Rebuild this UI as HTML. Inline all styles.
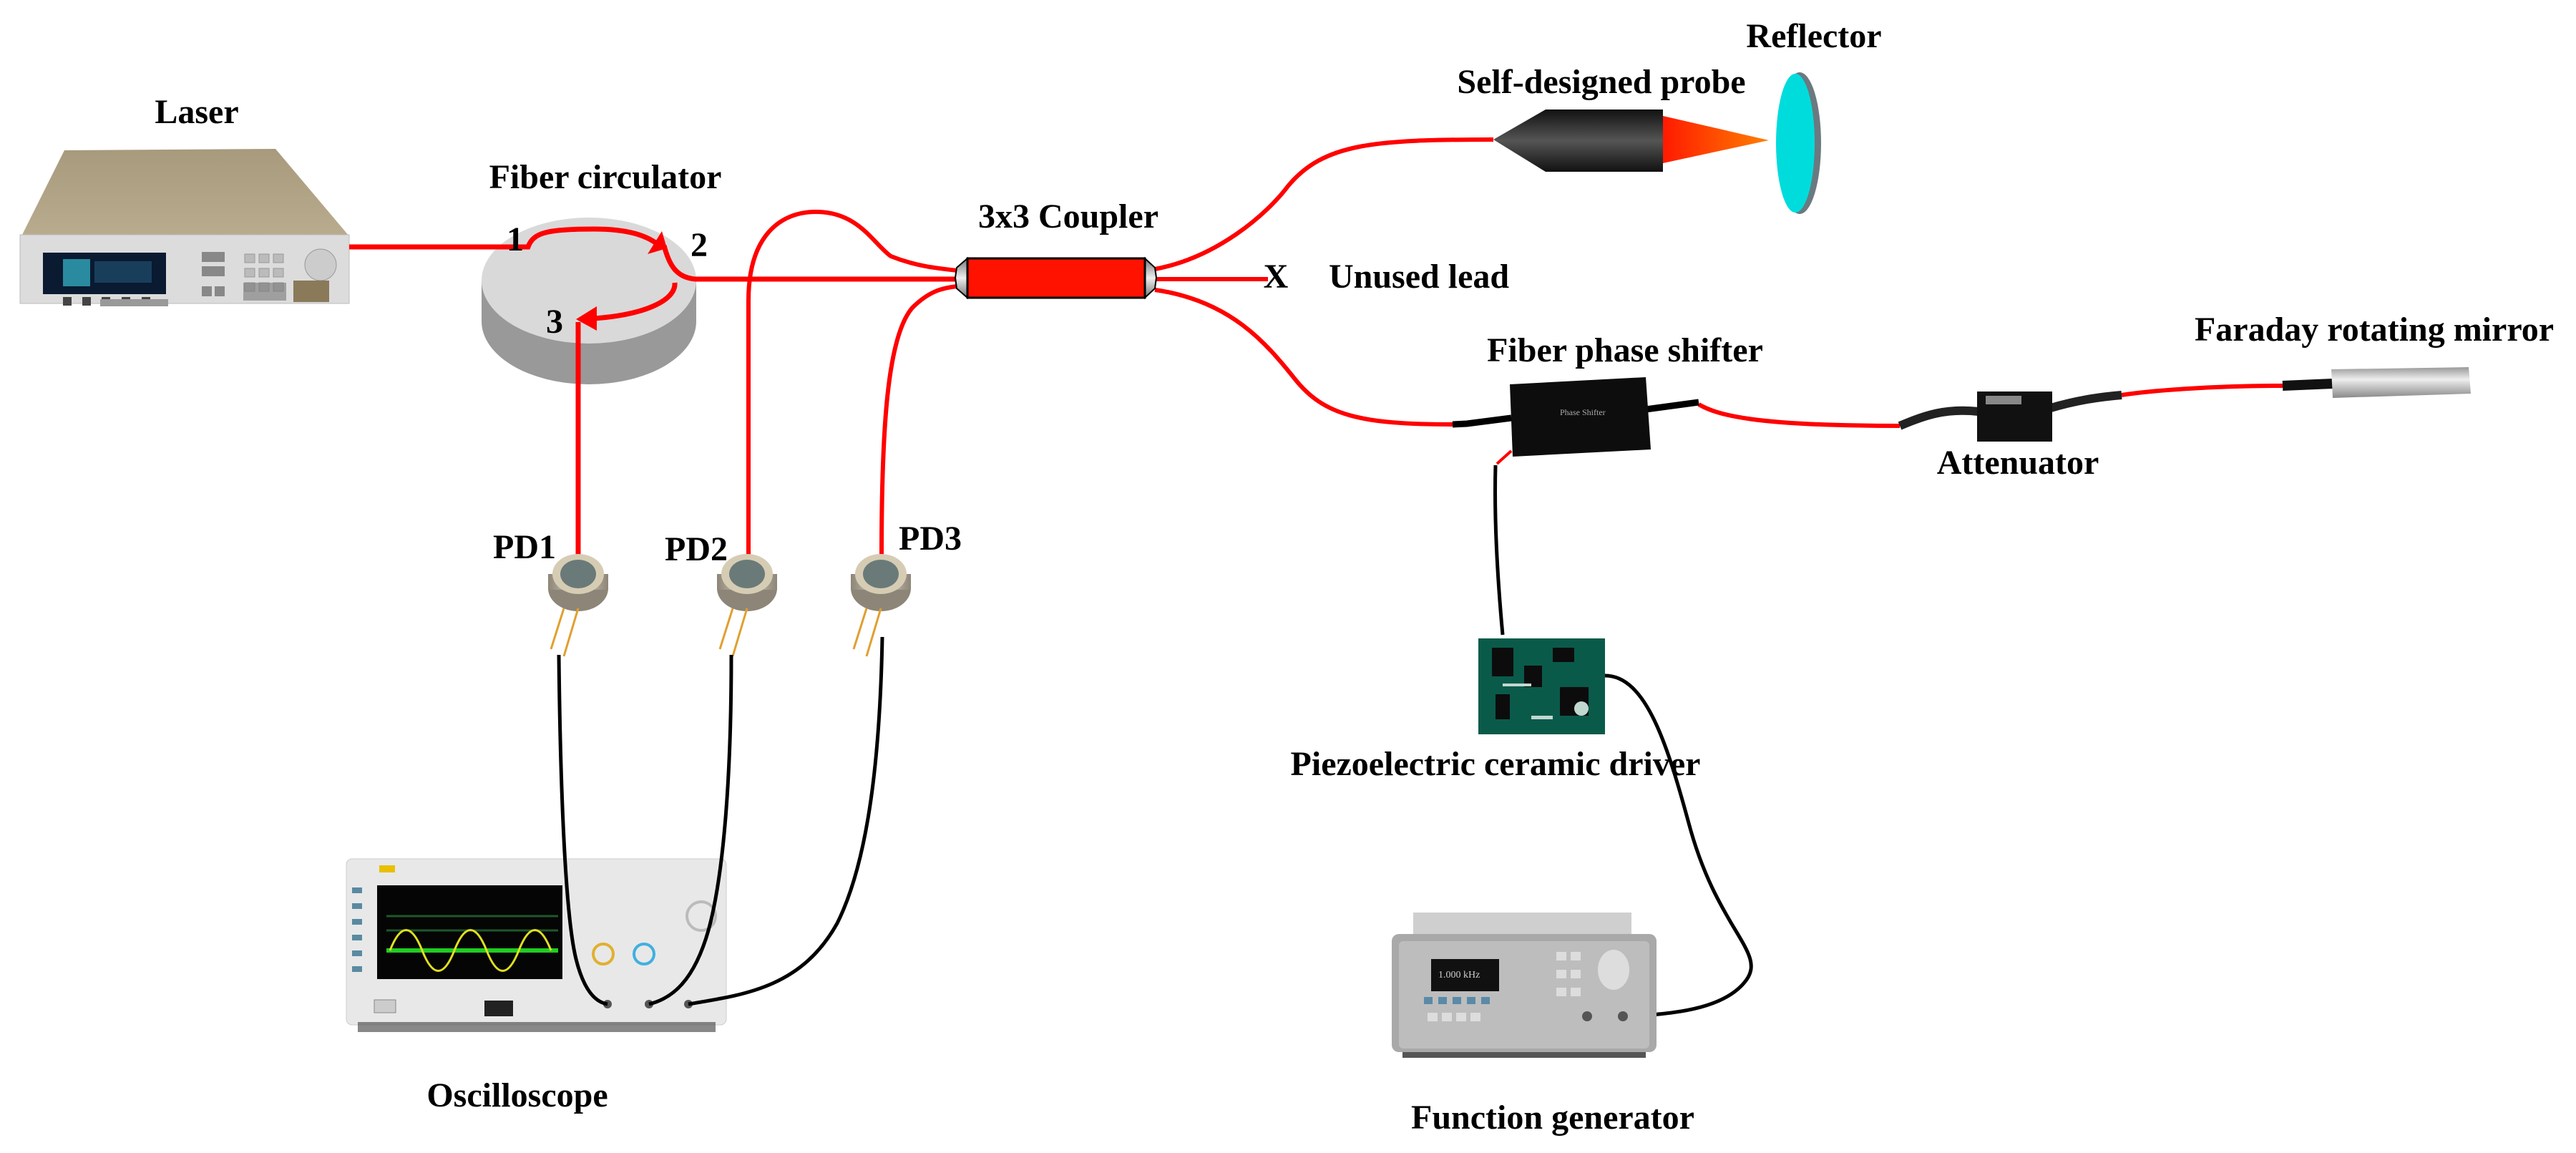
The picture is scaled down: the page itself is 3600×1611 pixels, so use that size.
<!DOCTYPE html>
<html><head><meta charset="utf-8"><style>
html,body{margin:0;padding:0;background:#fff}
svg{display:block}
text{font-family:"Liberation Serif",serif;font-weight:bold;fill:#000}
</style></head><body>
<svg width="3600" height="1611" viewBox="0 0 3600 1611" xmlns="http://www.w3.org/2000/svg">
<defs>
<linearGradient id="laserTop" x1="0" y1="0" x2="0" y2="1"><stop offset="0" stop-color="#a89a7c"/><stop offset="1" stop-color="#b9ac8e"/></linearGradient>
<linearGradient id="probe" x1="0" y1="0" x2="0" y2="1"><stop offset="0" stop-color="#111"/><stop offset="0.5" stop-color="#555"/><stop offset="1" stop-color="#111"/></linearGradient>
<linearGradient id="cone" x1="0" y1="0" x2="1" y2="0"><stop offset="0" stop-color="#ff1a00"/><stop offset="1" stop-color="#ff8000"/></linearGradient>
<linearGradient id="cap" x1="0" y1="0" x2="0" y2="1"><stop offset="0" stop-color="#777"/><stop offset="0.5" stop-color="#eee"/><stop offset="1" stop-color="#777"/></linearGradient>
<linearGradient id="mirr" x1="0" y1="0" x2="0" y2="1"><stop offset="0" stop-color="#999"/><stop offset="0.4" stop-color="#eee"/><stop offset="1" stop-color="#888"/></linearGradient>
<linearGradient id="pd" x1="0" y1="0" x2="1" y2="0"><stop offset="0" stop-color="#8d8577"/><stop offset="0.5" stop-color="#d8d0bf"/><stop offset="1" stop-color="#8d8577"/></linearGradient>
</defs>

<!-- Laser -->
<text x="275" y="172" font-size="48" text-anchor="middle">Laser</text>
<polygon points="90,210 385,208 488,330 30,330" fill="url(#laserTop)"/>
<rect x="28" y="328" width="460" height="96" fill="#dcdcdc" stroke="#bbb"/>
<rect x="60" y="353" width="172" height="58" fill="#0a1a30"/>
<rect x="88" y="362" width="38" height="38" fill="#2a8aa0"/>
<rect x="132" y="365" width="80" height="30" fill="#1f4f6f" opacity="0.7"/>
<g fill="#444"><rect x="88" y="415" width="12" height="12"/><rect x="115" y="415" width="12" height="12"/><rect x="142" y="415" width="12" height="12"/><rect x="170" y="415" width="12" height="12"/><rect x="198" y="415" width="12" height="12"/></g>
<g fill="#888"><rect x="282" y="352" width="32" height="14"/><rect x="282" y="372" width="32" height="14"/><rect x="282" y="400" width="14" height="14"/><rect x="300" y="400" width="14" height="14"/></g>
<g fill="#bbb" stroke="#999"><rect x="342" y="355" width="14" height="12"/><rect x="362" y="355" width="14" height="12"/><rect x="382" y="355" width="14" height="12"/><rect x="342" y="375" width="14" height="12"/><rect x="362" y="375" width="14" height="12"/><rect x="382" y="375" width="14" height="12"/><rect x="342" y="395" width="14" height="12"/><rect x="362" y="395" width="14" height="12"/><rect x="382" y="395" width="14" height="12"/></g>
<circle cx="448" cy="370" r="22" fill="#ccc" stroke="#999"/>
<rect x="340" y="395" width="60" height="25" fill="#777" opacity="0.6"/>
<rect x="410" y="392" width="50" height="30" fill="#8a7a5a"/>
<rect x="140" y="418" width="95" height="10" fill="#999"/>

<!-- Circulator -->
<text x="846" y="263" font-size="48" text-anchor="middle">Fiber circulator</text>
<path d="M673,392 L673,449 A150,88 0 0 0 973,449 L973,392 Z" fill="#999"/>
<ellipse cx="823" cy="392" rx="150" ry="88" fill="#d9d9d9"/>
<g fill="none" stroke="#ff0000" stroke-width="7">
<path d="M488,345 L738,345 C745,325 765,320 830,320 C880,320 905,330 920,342"/>
<path d="M928,343 C935,370 945,388 972,390 L1340,390"/>
<path d="M943,395 C945,420 900,440 830,445"/>
<path d="M808,450 L808,775"/>
</g>
<polygon points="932,347 905,355 925,323" fill="#ff0000"/>
<polygon points="805,446 834,428 834,462" fill="#ff0000"/>
<text x="720" y="350" font-size="48" text-anchor="middle">1</text>
<text x="977" y="358" font-size="48" text-anchor="middle">2</text>
<text x="775" y="465" font-size="48" text-anchor="middle">3</text>

<!-- Fibers to coupler from PD2/PD3 -->
<g fill="none" stroke="#ff0000" stroke-width="6">
<path d="M1046,775 L1046,420 C1046,330 1090,296 1140,296 C1200,296 1220,340 1245,358 C1280,372 1310,375 1338,378"/>
<path d="M1232,775 C1232,600 1240,470 1275,430 C1300,405 1320,402 1338,400"/>
<!-- right side fibers -->
<path d="M1614,376 C1700,360 1770,300 1800,260 C1850,200 1920,195 2087,195"/>
<path d="M1614,390 L1772,390"/>
<path d="M1614,405 C1720,420 1770,480 1810,530 C1850,580 1900,593 2030,593"/>
<path d="M2374,565 C2400,580 2450,595 2655,595"/>
<path d="M2965,552 C3010,545 3100,539 3190,539"/>
</g>

<!-- Coupler -->
<text x="1493" y="318" font-size="48" text-anchor="middle">3x3 Coupler</text>
<polygon points="1352,361 1337,374 1335,388 1337,403 1352,416" fill="url(#cap)" stroke="#000" stroke-width="2"/>
<polygon points="1600,361 1614,374 1616,388 1614,403 1600,416" fill="url(#cap)" stroke="#000" stroke-width="2"/>
<rect x="1352" y="361" width="248" height="55" fill="#ff1200" stroke="#000" stroke-width="3"/>
<text x="1783" y="402" font-size="48" text-anchor="middle">X</text>
<text x="1857" y="402" font-size="48">Unused lead</text>

<!-- Probe & reflector -->
<text x="2238" y="130" font-size="48" text-anchor="middle">Self-designed probe</text>
<text x="2535" y="66" font-size="48" text-anchor="middle">Reflector</text>
<polygon points="2087,195 2160,153 2324,153 2324,240 2160,240" fill="url(#probe)"/>
<polygon points="2324,162 2472,196 2324,228" fill="url(#cone)"/>
<ellipse cx="2515" cy="200" rx="30" ry="99" fill="#6a7a80"/>
<ellipse cx="2509" cy="200" rx="27" ry="97" fill="#00dcdc"/>

<!-- Phase shifter -->
<text x="2271" y="505" font-size="48" text-anchor="middle">Fiber phase shifter</text>
<path d="M2030,593 L2050,592 L2112,584" stroke="#000" stroke-width="9" fill="none"/>
<path d="M2300,572 L2374,562" stroke="#000" stroke-width="9" fill="none"/>
<polygon points="2110,537 2300,527 2307,628 2114,638" fill="#0d0d0d"/>
<text x="2180" y="580" font-size="12" style="fill:#aaa;font-weight:normal">Phase Shifter</text>
<path d="M2112,630 L2092,648" stroke="#ff0000" stroke-width="4" fill="none"/>
<path d="M2090,650 C2088,720 2092,800 2100,887" stroke="#000" stroke-width="5" fill="none"/>

<!-- Attenuator -->
<path d="M2655,595 C2690,580 2720,570 2765,575" stroke="#222" stroke-width="12" fill="none"/>
<path d="M2866,570 C2900,560 2930,555 2965,552" stroke="#222" stroke-width="12" fill="none"/>
<rect x="2763" y="547" width="105" height="70" fill="#111"/>
<rect x="2775" y="553" width="50" height="12" fill="#888"/>
<text x="2820" y="662" font-size="48" text-anchor="middle">Attenuator</text>

<!-- Faraday mirror -->
<text x="3318" y="476" font-size="48" text-anchor="middle">Faraday rotating mirror</text>
<path d="M3190,539 L3260,536" stroke="#111" stroke-width="14" fill="none"/>
<polygon points="3258,516 3450,513 3453,550 3260,556" fill="url(#mirr)"/>

<!-- PDs -->
<text x="733" y="780" font-size="48" text-anchor="middle">PD1</text>
<text x="973" y="783" font-size="48" text-anchor="middle">PD2</text>
<text x="1300" y="768" font-size="48" text-anchor="middle">PD3</text>
<g>
<g transform="translate(808,810)"><ellipse cx="0" cy="12" rx="42" ry="32" fill="#8d8577"/><rect x="-42" y="-8" width="84" height="22" fill="url(#pd)"/><ellipse cx="0" cy="-8" rx="36" ry="28" fill="#d6ccb4"/><ellipse cx="0" cy="-8" rx="25" ry="20" fill="#6a7a78"/><path d="M-20,40 L-38,97 M0,40 L-20,107" stroke="#e0a030" stroke-width="3"/></g>
<g transform="translate(1044,810)"><ellipse cx="0" cy="12" rx="42" ry="32" fill="#8d8577"/><rect x="-42" y="-8" width="84" height="22" fill="url(#pd)"/><ellipse cx="0" cy="-8" rx="36" ry="28" fill="#d6ccb4"/><ellipse cx="0" cy="-8" rx="25" ry="20" fill="#6a7a78"/><path d="M-20,40 L-38,97 M0,40 L-20,107" stroke="#e0a030" stroke-width="3"/></g>
<g transform="translate(1231,810)"><ellipse cx="0" cy="12" rx="42" ry="32" fill="#8d8577"/><rect x="-42" y="-8" width="84" height="22" fill="url(#pd)"/><ellipse cx="0" cy="-8" rx="36" ry="28" fill="#d6ccb4"/><ellipse cx="0" cy="-8" rx="25" ry="20" fill="#6a7a78"/><path d="M-20,40 L-38,97 M0,40 L-20,107" stroke="#e0a030" stroke-width="3"/></g>
</g>

<!-- Oscilloscope -->
<rect x="484" y="1200" width="531" height="232" rx="8" fill="#e8e8e8" stroke="#ccc"/>
<rect x="500" y="1428" width="500" height="14" fill="#555" opacity="0.7"/>
<rect x="527" y="1237" width="259" height="131" fill="#050505"/>
<path d="M540,1280 L780,1280 M540,1300 L780,1300" stroke="#2a7a3a" stroke-width="3" opacity="0.7"/>
<rect x="540" y="1325" width="240" height="6" fill="#22cc22"/>
<path d="M545,1328 C560,1290 575,1290 590,1328 C605,1366 620,1366 635,1328 C650,1290 665,1290 680,1328 C695,1366 710,1366 725,1328 C740,1290 755,1290 770,1328" stroke="#e0e020" stroke-width="3" fill="none"/>
<rect x="530" y="1209" width="22" height="10" fill="#e8c000"/>
<g fill="#5a8aa0"><rect x="492" y="1240" width="14" height="8"/><rect x="492" y="1262" width="14" height="8"/><rect x="492" y="1284" width="14" height="8"/><rect x="492" y="1306" width="14" height="8"/><rect x="492" y="1328" width="14" height="8"/><rect x="492" y="1350" width="14" height="8"/></g>
<circle cx="843" cy="1333" r="14" fill="none" stroke="#e0b030" stroke-width="4"/>
<circle cx="900" cy="1333" r="14" fill="none" stroke="#40b0e0" stroke-width="4"/>
<circle cx="980" cy="1280" r="20" fill="none" stroke="#bbb" stroke-width="4"/>
<rect x="523" y="1397" width="30" height="18" fill="#ccc" stroke="#888"/>
<rect x="677" y="1398" width="40" height="22" fill="#222"/>
<circle cx="849" cy="1403" r="6" fill="#555"/><circle cx="907" cy="1403" r="6" fill="#555"/><circle cx="962" cy="1403" r="6" fill="#555"/>

<!-- PD wires -->
<g fill="none" stroke="#000" stroke-width="5">
<path d="M781,915 C783,1100 790,1280 805,1340 C815,1380 830,1400 849,1403"/>
<path d="M1022,915 C1022,1080 1012,1220 990,1300 C970,1370 940,1395 907,1403"/>
<path d="M1233,890 C1230,1050 1215,1200 1170,1290 C1120,1380 1040,1390 962,1403"/>
</g>
<text x="723" y="1546" font-size="48" text-anchor="middle">Oscilloscope</text>

<!-- Piezo driver -->
<rect x="2066" y="892" width="177" height="134" fill="#0a5a4a"/>
<g fill="#0c0c0c"><rect x="2085" y="905" width="30" height="40"/><rect x="2130" y="930" width="25" height="30"/><rect x="2170" y="905" width="30" height="20"/><rect x="2180" y="960" width="40" height="40"/><rect x="2090" y="970" width="20" height="35"/></g>
<g fill="#c0d8d0"><circle cx="2210" cy="990" r="10"/><rect x="2140" y="1000" width="30" height="5"/><rect x="2100" y="955" width="40" height="4"/></g>
<text x="2090" y="1083" font-size="48" text-anchor="middle">Piezoelectric ceramic driver</text>
<path d="M2243,944 C2300,944 2330,1040 2360,1150 C2400,1300 2470,1330 2440,1370 C2410,1410 2340,1415 2298,1419" stroke="#000" stroke-width="5" fill="none"/>

<!-- Function generator -->
<rect x="1975" y="1275" width="305" height="50" fill="#cfcfcf"/>
<rect x="1945" y="1305" width="370" height="165" rx="10" fill="#a9a9a9"/>
<rect x="1955" y="1315" width="350" height="150" rx="6" fill="#bdbdbd"/>
<rect x="2000" y="1340" width="95" height="45" fill="#111"/>
<text x="2010" y="1366" font-size="14" style="fill:#cfcfcf;font-weight:normal">1.000 kHz</text>
<g fill="#5a8aa8"><rect x="1990" y="1393" width="12" height="10"/><rect x="2010" y="1393" width="12" height="10"/><rect x="2030" y="1393" width="12" height="10"/><rect x="2050" y="1393" width="12" height="10"/><rect x="2070" y="1393" width="12" height="10"/></g>
<g fill="#ddd"><rect x="1995" y="1415" width="14" height="12"/><rect x="2015" y="1415" width="14" height="12"/><rect x="2035" y="1415" width="14" height="12"/><rect x="2055" y="1415" width="14" height="12"/><rect x="2175" y="1330" width="14" height="12"/><rect x="2195" y="1330" width="14" height="12"/><rect x="2175" y="1355" width="14" height="12"/><rect x="2195" y="1355" width="14" height="12"/><rect x="2175" y="1380" width="14" height="12"/><rect x="2195" y="1380" width="14" height="12"/></g>
<ellipse cx="2255" cy="1355" rx="22" ry="28" fill="#ddd"/>
<circle cx="2218" cy="1420" r="7" fill="#555"/><circle cx="2268" cy="1420" r="7" fill="#555"/>
<rect x="1960" y="1470" width="340" height="8" fill="#555"/>
<text x="2170" y="1577" font-size="48" text-anchor="middle">Function generator</text>
</svg>
</body></html>
